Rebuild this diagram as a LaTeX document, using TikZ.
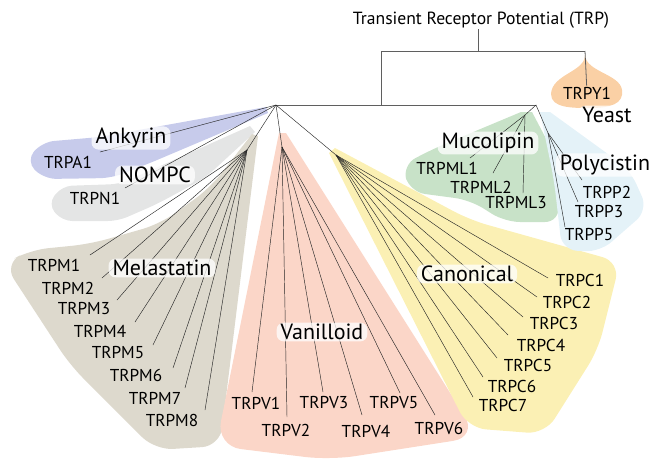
\documentclass[tikz,border=0pt]{standalone}
\usepackage{fontspec}
\setmainfont{PT Sans}
\usepackage{tikz}
\definecolor{ankyrinblue}{RGB}{199,203,235}
\definecolor{nompcgray}{RGB}{228,229,229}
\definecolor{melabeige}{RGB}{221,217,205}
\definecolor{vanipink}{RGB}{251,214,200}
\definecolor{canoyellow}{RGB}{251,240,180}
\definecolor{mucogreen}{RGB}{200,226,200}
\definecolor{polyblue}{RGB}{228,242,248}
\definecolor{yeastorange}{RGB}{250,208,165}
\definecolor{treegray}{RGB}{95,95,95}
\tikzset{
	leaflabel/.style={inner sep=1pt, font=\fontsize{17.2}{17}\selectfont},
	grouplabel/.style={fill=white, fill opacity=0.75, text opacity=1, rounded corners=7pt, inner xsep=4pt, inner ysep=1.5pt, font=\fontsize{22}{22}\selectfont},
	trunk/.style={treegray, line width=0.8pt},
	twig/.style={black!85, line width=0.45pt}
}

\begin{document}
\begin{tikzpicture}[x=1pt, y=-1pt]
	\useasboundingbox (0,0) rectangle (652,459);
	
	% family areas
	\fill[ankyrinblue] (266,107) [rounded corners=12pt] -- (100,137) -- (42,142) -- (26,161) -- (44,179) -- (112,178) -- (150,163) [sharp corners] -- (268,113) -- cycle;
	
	\fill[nompcgray] (250,126) [rounded corners=10pt] -- (120,184) -- (62,186) -- (48,204) -- (62,221) -- (118,221) -- (157,204) -- (205,178) [sharp corners] -- (255,132) -- cycle;
	
	\fill[melabeige] (252,134) [rounded corners=18pt] -- (210,188) -- (160,224) -- (90,244) -- (30,250) -- (4,264) -- (70,365) -- (155,450) -- (220,446) [sharp corners] -- (258,136) -- cycle;
	
	\fill[vanipink] (279,133) [rounded corners=25pt] -- (216,446) -- (330,460) -- (478,437) [sharp corners] -- (286,133) -- cycle;
	
	\fill[canoyellow] (335,148) [rounded corners=18pt] -- (470,220) -- (620,262) -- (598,350) -- (545,434) -- (468,428) [sharp corners] -- (329,153) -- cycle;
	
	\fill[mucogreen] (521,112) [rounded corners=15pt] -- (435,148) -- (402,165) -- (410,192) -- (470,200) -- (505,222) -- (560,222) -- (552,150) [sharp corners] -- (532,112) -- cycle;
	
	\fill[polyblue] (540,112) [rounded corners=15pt] -- (554,180) -- (562,250) -- (600,252) -- (648,210) -- (630,170) [sharp corners] -- (550,112) -- cycle;
	
	\fill[yeastorange] (585,55) .. controls (585,72) and (552,74) .. (551,94) .. controls (551,108) and (572,108) .. (590,108) .. controls (610,108) and (624,104) .. (622,90) .. controls (620,74) and (586,72) .. (585,55) -- cycle;
	
	% tree
	\node[leaflabel, font=\fontsize{17.6}{17}\selectfont] (trp) at (481,20) {Transient Receptor Potential (TRP)};
	\coordinate (trpjoin) at (478,51);
	\coordinate (leftjoin) at (381,51);
	\coordinate (yeastjoin) at (585,51);
	\coordinate (leftdrop) at (381,105);
	\coordinate (hub) at (276,105);
	\coordinate (mlphub) at (536,105);
	\coordinate (melhub) at (247,150);
	\coordinate (vanhub) at (282,147);
	\coordinate (canhub) at (336,155);
	\coordinate (muchub) at (525,115);
	\coordinate (polhub) at (548,133);
	
	\draw[trunk] (trpjoin |- trp.south) -- (trpjoin);
	\draw[trunk] (leftjoin) -- (yeastjoin);
	\draw[trunk] (leftjoin) -- (leftdrop);
	\draw[trunk] (hub) -- (mlphub);
	
	\draw[twig] (hub) -- (melhub);
	\draw[twig] (hub) -- (vanhub);
	\draw[twig] (hub) -- (canhub);
	\draw[twig] (mlphub) -- (muchub);
	\draw[twig] (mlphub) -- (polhub);
	
	% yeast
	\node[leaflabel] (trpy1) at (587,93) {TRPY1};
	\draw[trunk] (yeastjoin) -- (trpy1);
	
	% ankyrin, nompc
	\node[leaflabel] (trpa1) at (68,162) {TRPA1};
	\draw[twig] (hub) -- ([xshift=32pt, yshift=10pt]trpa1.center);
	\node[leaflabel] (trpn1) at (95,198) {TRPN1};
	\draw[twig] (hub) -- ([xshift=30pt, yshift=10pt]trpn1.center);
	
	% melastatin
	\node[leaflabel] (trpm1) at (54,265) {TRPM1};
	\draw[twig] (melhub) -- ([xshift=36pt, yshift=10pt]trpm1.center);
	\node[leaflabel] (trpm2) at (68,288) {TRPM2};
	\draw[twig] (melhub) -- ([xshift=34pt, yshift=10pt]trpm2.center);
	\node[leaflabel] (trpm3) at (84,309) {TRPM3};
	\draw[twig] (melhub) -- ([xshift=33pt, yshift=9pt]trpm3.center);
	\node[leaflabel] (trpm4) at (100,331) {TRPM4};
	\draw[twig] (melhub) -- ([xshift=35pt, yshift=9pt]trpm4.center);
	\node[leaflabel] (trpm5) at (118,353) {TRPM5};
	\draw[twig] (melhub) -- ([xshift=35pt, yshift=8pt]trpm5.center);
	\node[leaflabel] (trpm6) at (136,375) {TRPM6};
	\draw[twig] (melhub) -- ([xshift=37pt, yshift=7pt]trpm6.center);
	\node[leaflabel] (trpm7) at (155,398) {TRPM7};
	\draw[twig] (melhub) -- ([xshift=30pt, yshift=10pt]trpm7.center);
	\node[leaflabel] (trpm8) at (172,420) {TRPM8};
	\draw[twig] (melhub) -- ([xshift=33pt, yshift=10pt]trpm8.center);
	
	% vanilloid
	\node[leaflabel] (trpv1) at (256,403) {TRPV1};
	\draw[twig] (vanhub) -- ([xshift=-4pt, yshift=11pt]trpv1.center);
	\node[leaflabel] (trpv2) at (286,430) {TRPV2};
	\draw[twig] (vanhub) -- ([xshift=1pt, yshift=13pt]trpv2.center);
	\node[leaflabel] (trpv3) at (324,403) {TRPV3};
	\draw[twig] (vanhub) -- ([xshift=-1pt, yshift=11pt]trpv3.center);
	\node[leaflabel] (trpv4) at (366,431) {TRPV4};
	\draw[twig] (vanhub) -- ([xshift=-4pt, yshift=16pt]trpv4.center);
	\node[leaflabel] (trpv5) at (394,403) {TRPV5};
	\draw[twig] (vanhub) -- ([xshift=6pt, yshift=10pt]trpv5.center);
	\node[leaflabel] (trpv6) at (439,428) {TRPV6};
	\draw[twig] (vanhub) -- ([xshift=-4pt, yshift=13pt]trpv6.center);
	
	% canonical
	\node[leaflabel] (trpc1) at (580,280) {TRPC1};
	\draw[twig] (canhub) -- ([xshift=-32pt, yshift=2pt]trpc1.center);
	\node[leaflabel] (trpc2) at (567,302) {TRPC2};
	\draw[twig] (canhub) -- ([xshift=-30pt, yshift=5pt]trpc2.center);
	\node[leaflabel] (trpc3) at (554,323) {TRPC3};
	\draw[twig] (canhub) -- ([xshift=-31pt, yshift=6pt]trpc3.center);
	\node[leaflabel] (trpc4) at (541,345) {TRPC4};
	\draw[twig] (canhub) -- ([xshift=-33pt, yshift=10pt]trpc4.center);
	\node[leaflabel] (trpc5) at (528,365) {TRPC5};
	\draw[twig] (canhub) -- ([xshift=-31pt, yshift=7pt]trpc5.center);
	\node[leaflabel] (trpc6) at (512,386) {TRPC6};
	\draw[twig] (canhub) -- ([xshift=-29pt, yshift=9pt]trpc6.center);
	\node[leaflabel] (trpc7) at (503,405) {TRPC7};
	\draw[twig] (canhub) -- ([xshift=-30pt, yshift=8pt]trpc7.center);
	
	% mucolipin
	\node[leaflabel] (trpml1) at (447,168) {TRPML1};
	\draw[twig] (muchub) -- ([xshift=23pt, yshift=10pt]trpml1.center);
	\node[leaflabel] (trpml2) at (481,187) {TRPML2};
	\draw[twig] (muchub) -- ([xshift=12pt, yshift=14pt]trpml2.center);
	\node[leaflabel] (trpml3) at (516,203) {TRPML3};
	\draw[twig] (muchub) -- ([xshift=7pt, yshift=10pt]trpml3.center);
	
	% polycistin
	\node[leaflabel] (trpp2) at (607,192) {TRPP2};
	\draw[twig] (polhub) -- ([xshift=-25pt, yshift=12pt]trpp2.center);
	\node[leaflabel] (trpp3) at (599,212) {TRPP3};
	\draw[twig] (polhub) -- ([xshift=-21pt, yshift=10pt]trpp3.center);
	\node[leaflabel] (trpp5) at (589,235) {TRPP5};
	\draw[twig] (polhub) -- ([xshift=-24pt, yshift=8pt]trpp5.center);
	
	% family names
	\node[grouplabel] (ankyrin) at (131,138) {Ankyrin};
	\node[grouplabel] (nompc) at (155,175) {NOMPC};
	\node[grouplabel] (melastatin) at (162,268) {Melastatin};
	\node[grouplabel] (vanilloid) at (322,332) {Vanilloid};
	\node[grouplabel] (canonical) at (467,274) {Canonical};
	\node[grouplabel] (mucolipin) at (488,143) {Mucolipin};
	\node[grouplabel] (polycistin) at (605,165) {Polycistin};
	\node[grouplabel] (yeast) at (607,115) {Yeast};
\end{tikzpicture}
\end{document}
